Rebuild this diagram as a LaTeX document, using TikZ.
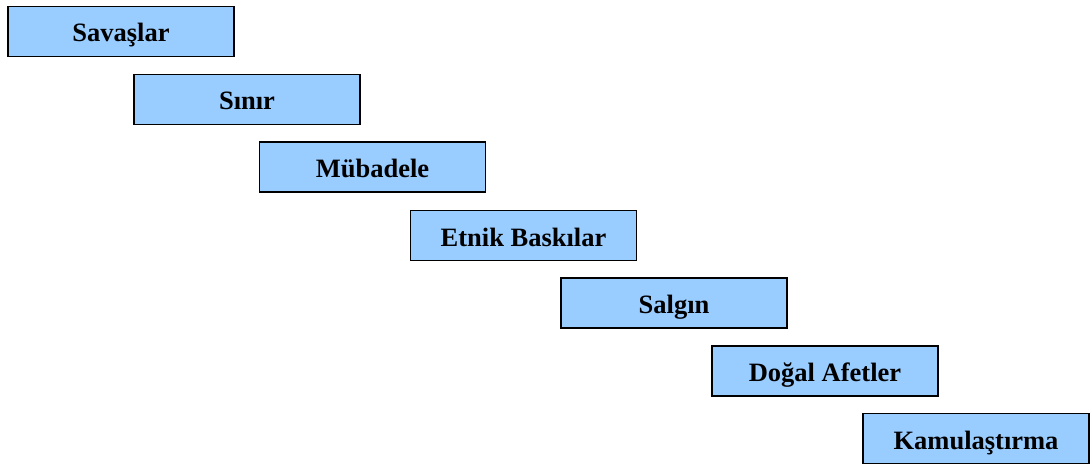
\documentclass[tikz,border=0pt]{standalone}
\usepackage{fontspec}
\setmainfont{Liberation Serif}
\usetikzlibrary{positioning}
\definecolor{kutu}{HTML}{99CCFF}
\tikzset{neden/.style={draw=black,line width=1.3pt,fill=kutu,minimum width=226pt,minimum height=50pt,inner sep=0pt,text height=23pt,text depth=2pt,font=\fontsize{26.5}{30}\selectfont\bfseries}}
\begin{document}
\begin{tikzpicture}[x=1pt,y=-1pt]
\useasboundingbox (0,0) rectangle (1092,465);
\node[neden] (sav) at (121,31.5) {Savaşlar};
\node[neden] (sin) at (247,99.5) {Sınır};
\node[neden] (mub) at (372.5,167) {Mübadele};
\node[neden] (etn) at (523.5,235.5) {Etnik Baskılar};
\node[neden] (sal) at (674,303) {Salgın};
\node[neden] (dog) at (825,371) {Doğal Afetler};
\node[neden] (kam) at (976,438.5) {Kamulaştırma};
\end{tikzpicture}
\end{document}
